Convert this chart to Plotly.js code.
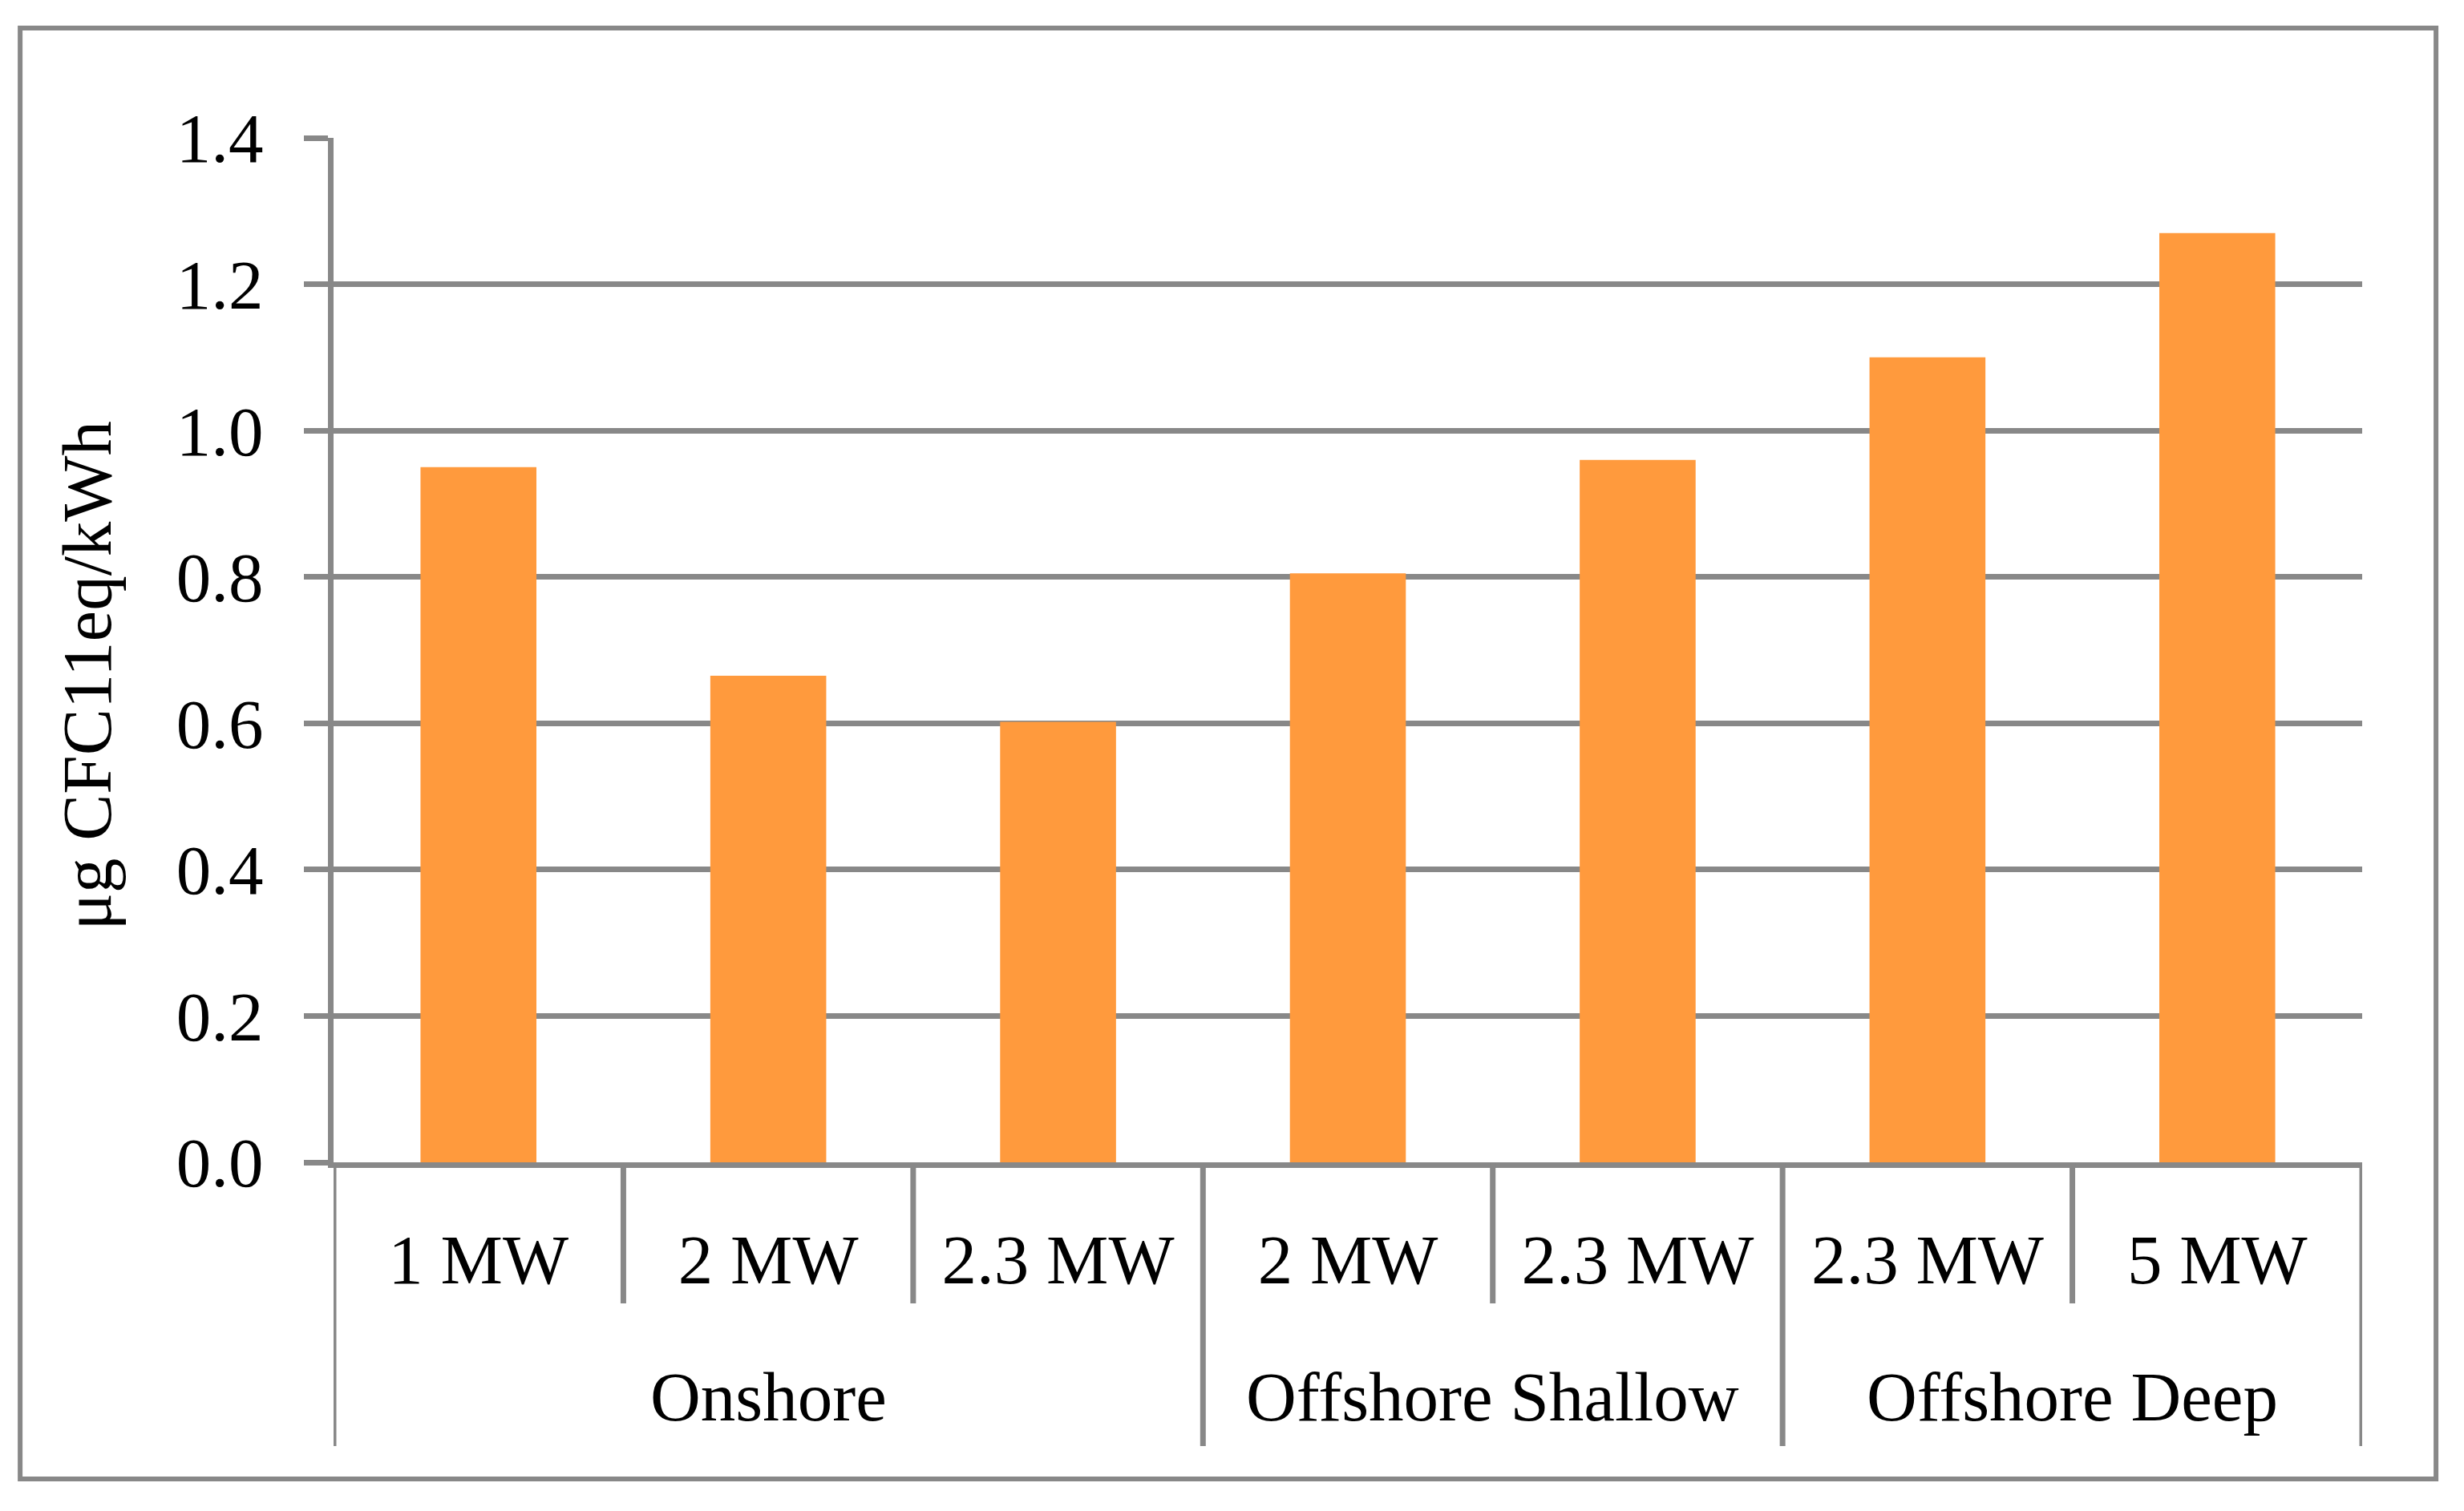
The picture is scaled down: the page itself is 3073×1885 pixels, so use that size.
<!DOCTYPE html>
<html>
<head>
<meta charset="utf-8">
<script src="https://cdn.plot.ly/plotly-3.0.1.min.js"></script>
<style>
  html, body { margin: 0; padding: 0; background: #fff; }
  #chart { width: 3073px; height: 1885px; }
</style>
</head>
<body>
<div id="chart"></div>
<script>
// ozone depletion per turbine size, grouped by site type
const groups = ["Onshore", "Onshore", "Onshore", "Offshore Shallow", "Offshore Shallow", "Offshore Deep", "Offshore Deep"];
const sizes = ["1 MW", "2 MW", "2.3 MW", "2 MW", "2.3 MW", "2.3 MW", "5 MW"];
const values = [0.95, 0.665, 0.602, 0.805, 0.96, 1.10, 1.27];
const yTicks = [0, 0.2, 0.4, 0.6, 0.8, 1.0, 1.2, 1.4];

const GREY = "#888888";
const ORANGE = "#FF9A3D";
const FONT = "Liberation Serif, Times New Roman, serif";
const LW = 7;

const idx = sizes.map((_, i) => i);

const bars = {
  type: "bar",
  x: idx,
  y: values,
  width: 0.4,
  marker: { color: ORANGE, line: { width: 0 } },
  hoverinfo: "skip",
};

// divider lines under the axis: short between sizes, long between groups
const shapes = [];
for (let i = 0; i <= sizes.length; i++) {
  const isGroupEdge = i === 0 || i === sizes.length || groups[i] !== groups[i - 1];
  shapes.push({
    type: "line",
    xref: "x",
    yref: "paper",
    x0: i - 0.5,
    x1: i - 0.5,
    y0: 0,
    y1: isGroupEdge ? -0.277 : -0.1377,
    line: { color: GREY, width: LW },
  });
}
// outer frame
shapes.push({
  type: "rect",
  xref: "paper",
  yref: "paper",
  x0: -0.1545,
  x1: 1.0364,
  y0: -0.309,
  y1: 1.1072,
  line: { color: GREY, width: 6 },
});

// group labels centred under their sizes
const annotations = [];
const seen = [];
groups.forEach((g) => { if (!seen.includes(g)) seen.push(g); });
seen.forEach((g) => {
  const members = idx.filter((i) => groups[i] === g);
  const mid = (members[0] + members[members.length - 1]) / 2;
  annotations.push({
    xref: "x",
    yref: "paper",
    x: mid,
    y: -0.229,
    xanchor: "center",
    yanchor: "middle",
    text: g,
    showarrow: false,
    font: { family: FONT, size: 87, color: "#000" },
  });
});
annotations.push({
  xref: "paper",
  yref: "paper",
  x: -0.1215,
  y: 0.475,
  xanchor: "center",
  yanchor: "middle",
  textangle: -90,
  text: "μg CFC11eq/kWh",
  showarrow: false,
  font: { family: FONT, size: 87, color: "#000" },
});

const layout = {
  width: 3073,
  height: 1885,
  margin: { l: 416, r: 127, t: 172, b: 435, pad: 0 },
  paper_bgcolor: "#fff",
  plot_bgcolor: "#fff",
  showlegend: false,
  font: { family: FONT, size: 87, color: "#000" },
  xaxis: {
    type: "linear",
    range: [-0.5, sizes.length - 0.5],
    tickvals: idx,
    ticktext: sizes,
    ticks: "",
    showgrid: false,
    zeroline: false,
    showline: true,
    linecolor: GREY,
    linewidth: LW,
    ticklabelstandoff: 40,
    tickfont: { family: FONT, size: 87, color: "#000" },
    fixedrange: true,
  },
  yaxis: {
    range: [0, 1.4],
    tickvals: yTicks,
    tickformat: ".1f",
    ticks: "outside",
    ticklen: 30,
    tickwidth: LW,
    tickcolor: GREY,
    showgrid: true,
    gridcolor: GREY,
    gridwidth: LW,
    zeroline: false,
    showline: true,
    linecolor: GREY,
    linewidth: LW,
    ticklabelstandoff: 33,
    tickfont: { family: FONT, size: 87, color: "#000" },
    fixedrange: true,
  },
  shapes,
  annotations,
};

Plotly.newPlot("chart", [bars], layout, { displayModeBar: false, staticPlot: true });
</script>
</body>
</html>
